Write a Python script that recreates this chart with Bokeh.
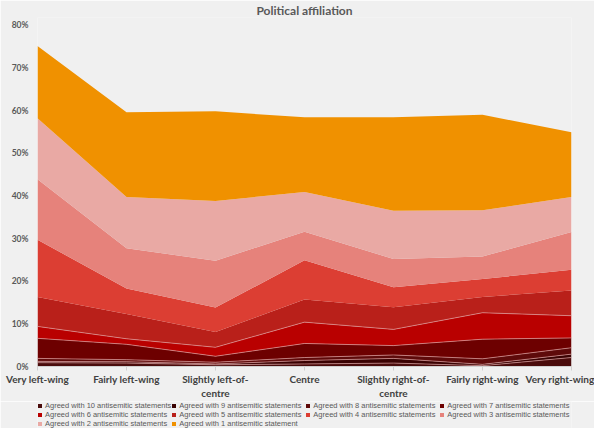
from bokeh.plotting import figure
from bokeh.models import (ColumnDataSource, Range1d, FixedTicker, Legend, LegendItem, Title)
from bokeh.layouts import column
from bokeh.embed import file_html
from bokeh.resources import INLINE

categories = ["Very left-wing", "Fairly left-wing", "Slightly left-of-\ncentre", "Centre",
              "Slightly right-of-\ncentre", "Fairly right-wing", "Very right-wing"]

# share (%) agreeing with exactly N antisemitic statements
agreed_10 = [0.9, 0.8, 0.4, 0.6, 0.8, 0.2, 2.1]
agreed_9 = [0.3, 0.3, 0.2, 0.8, 1.1, 0.3, 0.8]
agreed_8 = [0.7, 0.5, 0.4, 0.7, 0.8, 1.3, 1.5]
agreed_7 = [4.7, 3.6, 1.4, 3.3, 2.2, 4.6, 2.3]
agreed_6 = [2.8, 1.3, 2.1, 5.0, 3.8, 6.2, 5.2]
agreed_5 = [6.9, 5.8, 3.6, 5.3, 5.2, 3.7, 5.9]
agreed_4 = [13.4, 6.0, 5.7, 9.2, 4.7, 4.2, 4.9]
agreed_3 = [14.2, 9.4, 11.0, 6.7, 6.6, 5.3, 8.8]
agreed_2 = [14.3, 12.0, 14.0, 9.3, 11.3, 10.8, 8.2]
agreed_1 = [16.9, 19.9, 21.0, 17.5, 21.9, 22.4, 15.2]

series_labels = [f"Agreed with {n} antisemitic statements" for n in range(10, 1, -1)] + \
                ["Agreed with 1 antisemitic statement"]
series_values = [agreed_10, agreed_9, agreed_8, agreed_7, agreed_6,
                 agreed_5, agreed_4, agreed_3, agreed_2, agreed_1]
series_colors = ["#4a0c0c", "#3a0202", "#5e0a0a", "#6d0000", "#b90000",
                 "#b9201a", "#dc3e33", "#e6827b", "#e9a9a4", "#f09100"]

y_ticks = [0, 10, 20, 30, 40, 50, 60, 70, 80]
y_tick_labels = [f"{t}%" for t in y_ticks]

keys = [f"s{i}" for i in range(len(series_values))]
data = {"x": list(range(len(categories)))}
for k, v in zip(keys, series_values):
    data[k] = v
source = ColumnDataSource(data)

BG = "#f0f0f0"
p = figure(width=594, height=401, output_backend="svg", toolbar_location=None,
           x_range=Range1d(0, len(categories) - 1), y_range=Range1d(0, 81.8),
           background_fill_color=BG, border_fill_color=BG,
           min_border_left=37, min_border_right=23, min_border_top=16, min_border_bottom=29)
p.outline_line_color = None
p.grid.visible = False

p.title = Title(text="Political affiliation", align="center",
                text_font="Lato", text_font_size="12px", text_font_style="bold",
                text_color="#595959", standoff=0, offset=0)
p.title_location = "above"

renderers = p.varea_stack(stackers=keys, x="x", color=series_colors, source=source)
p.vline_stack(stackers=keys[:5], x="x", color="#e3a3a3", line_width=0.8, line_alpha=0.8,
              source=source)

# axes
p.xaxis.ticker = FixedTicker(ticks=list(range(len(categories))))
p.xaxis.major_label_overrides = {i: c for i, c in enumerate(categories)}
p.xaxis.axis_line_color = "#d0d0d0"
p.xaxis.major_tick_line_color = "#d0d0d0"
p.xaxis.major_tick_out = 4
p.xaxis.major_tick_in = 0
p.xaxis.minor_tick_line_color = None
p.xaxis.major_label_text_font = "Lato"
p.xaxis.major_label_text_font_style = "bold"
p.xaxis.major_label_text_font_size = "10px"
p.xaxis.major_label_text_color = "#404040"
p.xaxis.major_label_standoff = 2

p.yaxis.ticker = FixedTicker(ticks=y_ticks)
p.yaxis.major_label_overrides = {t: l for t, l in zip(y_ticks, y_tick_labels)}
p.yaxis.axis_line_color = None
p.yaxis.major_tick_line_color = None
p.yaxis.major_tick_out = 0
p.yaxis.major_tick_in = 0
p.yaxis.minor_tick_line_color = None
p.yaxis.major_label_text_font = "Lato"
p.yaxis.major_label_text_font_style = "bold"
p.yaxis.major_label_text_font_size = "8.5px"
p.yaxis.major_label_text_color = "#595959"
p.yaxis.major_label_standoff = 9

# legend strip below the chart; its stack is drawn outside the visible range
lg = figure(width=594, height=27, output_backend="svg", toolbar_location=None,
            x_range=Range1d(0, len(categories) - 1), y_range=Range1d(500, 501),
            x_axis_location=None, y_axis_location=None,
            background_fill_color=BG, border_fill_color=BG,
            min_border_left=0, min_border_right=0, min_border_top=0, min_border_bottom=0)
lg.grid.visible = False
lg.outline_line_color = None
lg_renderers = lg.varea_stack(stackers=keys, x="x", color=series_colors, source=source)
items = [LegendItem(label=lab, renderers=[r]) for lab, r in zip(series_labels, lg_renderers)]
legend = Legend(items=items, orientation="horizontal", ncols=4, location=(0, 0),
                label_text_font="Liberation Sans", label_text_font_size="7.5px",
                label_text_color="#595959", glyph_width=5, glyph_height=5,
                label_height=8, label_width=126, label_standoff=3, spacing=0,
                padding=0, margin=0,
                background_fill_alpha=0, border_line_color=None)
lg.add_layout(legend, "center")

open("out.html", "w").write(file_html(column(p, lg, spacing=0), INLINE))
